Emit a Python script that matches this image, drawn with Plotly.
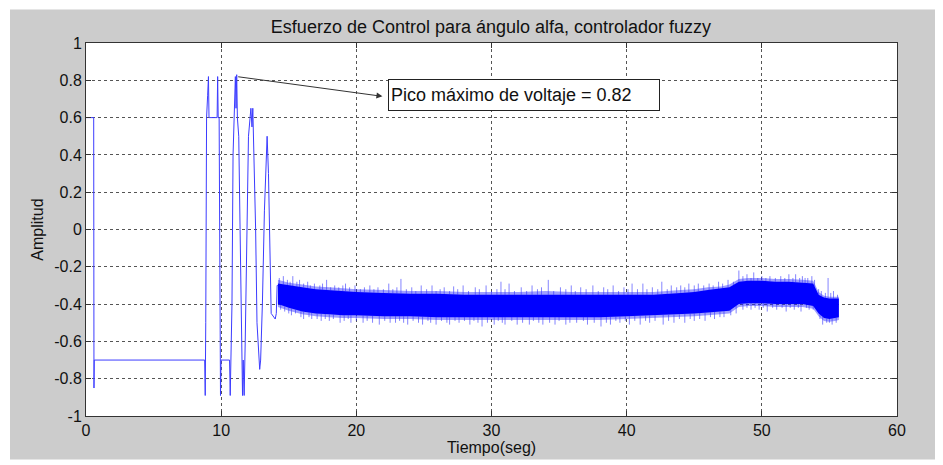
import plotly.graph_objects as go

# ---- data ----
# transient part of the control signal (time s, amplitude)
step_t = [0.0, 0.57, 0.59, 0.61, 8.78, 8.82, 8.86, 8.92, 9.0, 9.06, 9.1, 9.7, 9.74, 9.78, 9.85, 9.9,
          9.95, 9.99, 10.62, 10.67, 10.72, 10.8, 10.88, 10.98, 11.05, 11.1, 11.15, 11.2, 11.3, 11.4,
          11.5, 11.58, 11.63, 11.7, 11.78, 11.9, 12.02, 12.2, 12.28, 12.34, 12.42, 12.55, 12.65,
          12.78, 12.85, 12.92, 13.05, 13.2, 13.3, 13.4, 13.5, 13.6, 13.7, 14.0, 14.08, 14.14, 14.2]
step_y = [0.6, 0.6, -0.85, -0.7, -0.7, -0.89, -0.5, 0.6, 0.72, 0.82, 0.6, 0.6, 0.82, 0.6, 0.6, -0.3,
          -0.89, -0.7, -0.7, -0.89, -0.7, -0.4, 0.4, 0.6, 0.82, 0.65, 0.83, 0.6, 0.5, 0.0,
          -0.6, -0.89, -0.7, -0.89, -0.6, 0.0, 0.5, 0.65, 0.55, 0.65, 0.45, 0.0, -0.5,
          -0.65, -0.75, -0.7, -0.4, 0.1, 0.35, 0.5, 0.3, -0.1, -0.45, -0.48, -0.45, -0.3, -0.3]

# noisy steady part: dense core and lighter fringe of the band
band_t = [14.2, 15, 16, 17, 18, 19, 20, 22, 24, 26, 28, 30, 32, 34, 36, 38, 40, 42, 44, 45, 46,
          47, 47.6, 48.3, 49, 50, 51, 52, 53, 53.8, 54.2, 54.6, 55.0, 55.4, 55.7]
core_hi = [-0.29, -0.30, -0.31, -0.32, -0.325, -0.33, -0.335, -0.34, -0.345, -0.345, -0.35, -0.35,
           -0.35, -0.35, -0.35, -0.35, -0.35, -0.35, -0.34, -0.335, -0.325, -0.318, -0.31, -0.28,
           -0.275, -0.275, -0.28, -0.28, -0.285, -0.29, -0.35, -0.365, -0.37, -0.37, -0.37]
core_lo = [-0.40, -0.42, -0.44, -0.45, -0.455, -0.46, -0.46, -0.465, -0.465, -0.47, -0.47, -0.47,
           -0.47, -0.47, -0.47, -0.47, -0.465, -0.46, -0.455, -0.45, -0.445, -0.44, -0.435, -0.40,
           -0.395, -0.395, -0.40, -0.40, -0.40, -0.41, -0.45, -0.475, -0.48, -0.475, -0.47]
fringe_hi = [-0.27, -0.285, -0.295, -0.305, -0.31, -0.315, -0.32, -0.325, -0.33, -0.33, -0.335,
             -0.335, -0.335, -0.33, -0.335, -0.335, -0.335, -0.335, -0.325, -0.32, -0.31, -0.305,
             -0.295, -0.265, -0.26, -0.26, -0.265, -0.265, -0.27, -0.275, -0.335, -0.355, -0.36,
             -0.36, -0.36]
fringe_lo = [-0.415, -0.435, -0.455, -0.465, -0.47, -0.475, -0.475, -0.48, -0.48, -0.485, -0.485,
             -0.485, -0.485, -0.485, -0.485, -0.485, -0.48, -0.475, -0.47, -0.465, -0.46, -0.455,
             -0.45, -0.415, -0.41, -0.41, -0.415, -0.415, -0.415, -0.425, -0.465, -0.49, -0.495,
             -0.49, -0.485]

# noise spikes (time, tip amplitude)
spike_up_t = [14.3, 14.6, 14.9, 15.1, 15.3, 15.6, 15.8, 16.1, 16.4, 16.6, 16.9, 17.3, 17.5, 17.8,
              18.1, 18.4, 18.7, 19.0, 19.2, 19.5, 19.9, 20.3, 20.6, 21.0, 21.3, 21.6, 22.0, 22.4,
              22.7, 23.0, 23.3, 23.7, 24.1, 24.4, 24.8, 25.2, 25.6, 25.9, 26.2, 26.5, 26.9, 27.2,
              27.5, 27.9, 28.3, 28.8, 29.1, 29.6, 30.0, 30.4, 30.7, 31.0, 31.3, 31.7, 32.2, 32.6,
              33.0, 33.4, 33.7, 34.2, 34.6, 35.1, 35.5, 35.9, 36.2, 36.6, 37.0, 37.5, 37.9, 38.3,
              38.6, 39.0, 39.4, 39.8, 40.1, 40.4, 40.8, 41.2, 41.5, 41.9, 42.3, 42.6, 43.0, 43.3,
              43.7, 44.0, 44.3, 44.6, 45.0, 45.3, 45.7, 46.1, 46.4, 46.8, 47.1, 47.5, 47.9, 48.3,
              48.6, 48.9, 49.2, 49.4, 49.7, 50.0, 50.3, 50.6, 51.0, 51.4, 51.7, 52.0, 52.3, 52.5,
              52.8, 53.0, 53.2, 53.4, 53.7, 53.9, 54.2, 54.4, 54.7, 54.9, 55.1, 55.3, 55.6]
spike_up_y = [-0.26, -0.25, -0.27, -0.28, -0.25, -0.28, -0.27, -0.29, -0.28, -0.30, -0.29, -0.30,
              -0.29, -0.27, -0.31, -0.30, -0.31, -0.30, -0.29, -0.31, -0.30, -0.32, -0.31, -0.30,
              -0.32, -0.31, -0.32, -0.29, -0.32, -0.31, -0.265, -0.32, -0.31, -0.33, -0.30, -0.32,
              -0.30, -0.33, -0.32, -0.31, -0.33, -0.305, -0.32, -0.30, -0.33, -0.31, -0.32, -0.30,
              -0.33, -0.32, -0.28, -0.32, -0.29, -0.33, -0.31, -0.33, -0.30, -0.32, -0.31, -0.27,
              -0.33, -0.31, -0.32, -0.30, -0.33, -0.31, -0.32, -0.30, -0.33, -0.31, -0.32, -0.30,
              -0.33, -0.31, -0.32, -0.29, -0.32, -0.29, -0.32, -0.31, -0.32, -0.28, -0.32, -0.30,
              -0.31, -0.30, -0.31, -0.29, -0.30, -0.29, -0.30, -0.29, -0.30, -0.28, -0.29, -0.27,
              -0.28, -0.22, -0.25, -0.24, -0.26, -0.23, -0.26, -0.25, -0.26, -0.25, -0.26, -0.25,
              -0.26, -0.24, -0.26, -0.24, -0.26, -0.25, -0.26, -0.26, -0.25, -0.27, -0.32, -0.33,
              -0.34, -0.26, -0.34, -0.33, -0.35]
spike_dn_t = [14.4, 14.7, 15.0, 15.2, 15.5, 15.9, 16.1, 16.5, 16.7, 17.1, 17.4, 17.7, 18.0, 18.3,
              18.8, 19.1, 19.4, 19.6, 20.0, 20.5, 20.8, 21.2, 21.7, 22.1, 22.5, 22.9, 23.2, 23.5,
              23.8, 24.2, 24.6, 24.9, 25.3, 25.5, 25.9, 26.3, 26.7, 26.9, 27.3, 27.6, 28.0, 28.4,
              28.7, 29.0, 29.3, 29.7, 30.2, 30.5, 30.8, 31.0, 31.5, 31.9, 32.3, 32.8, 33.1, 33.5,
              33.8, 34.3, 34.7, 35.0, 35.5, 35.8, 36.3, 36.8, 37.1, 37.6, 38.1, 38.5, 38.8, 39.2,
              39.5, 39.9, 40.2, 40.6, 41.0, 41.4, 41.7, 42.1, 42.7, 43.1, 43.5, 43.9, 44.3, 44.7,
              45.0, 45.4, 45.8, 46.2, 46.5, 46.9, 47.2, 47.7, 48.1, 48.6, 48.9, 49.2, 49.5, 49.8,
              50.1, 50.4, 50.8, 51.1, 51.5, 51.8, 52.1, 52.4, 52.7, 52.9, 53.3, 53.5, 53.8, 54.3,
              54.5, 54.8, 55.0, 55.2, 55.5]
spike_dn_y = [-0.43, -0.44, -0.45, -0.46, -0.45, -0.47, -0.48, -0.47, -0.48, -0.48, -0.49, -0.48,
              -0.49, -0.48, -0.50, -0.49, -0.48, -0.50, -0.49, -0.50, -0.49, -0.50, -0.51, -0.49,
              -0.50, -0.50, -0.49, -0.50, -0.51, -0.49, -0.50, -0.51, -0.49, -0.50, -0.51, -0.49,
              -0.50, -0.51, -0.49, -0.50, -0.49, -0.51, -0.49, -0.50, -0.52, -0.50, -0.51, -0.49,
              -0.50, -0.51, -0.49, -0.51, -0.50, -0.51, -0.49, -0.50, -0.51, -0.50, -0.51, -0.49,
              -0.51, -0.50, -0.50, -0.49, -0.51, -0.50, -0.52, -0.50, -0.51, -0.49, -0.50, -0.49,
              -0.51, -0.49, -0.51, -0.49, -0.50, -0.49, -0.51, -0.49, -0.50, -0.48, -0.50, -0.48,
              -0.49, -0.48, -0.49, -0.47, -0.48, -0.47, -0.47, -0.46, -0.45, -0.43, -0.42, -0.43,
              -0.42, -0.43, -0.42, -0.44, -0.42, -0.43, -0.42, -0.44, -0.42, -0.43, -0.42, -0.44,
              -0.42, -0.43, -0.43, -0.48, -0.51, -0.50, -0.50, -0.51, -0.50]

peak_t, peak_y = 11.15, 0.82
note_text = "Pico máximo de voltaje = 0.82"
note_t, note_y = 32.44, 0.72       # box centre
arrow_head_t, arrow_head_y = 21.93, 0.714

x_ticks = [0, 10, 20, 30, 40, 50, 60]
y_ticks = [-1, -0.8, -0.6, -0.4, -0.2, 0, 0.2, 0.4, 0.6, 0.8, 1]
y_tick_text = ["-1", "-0.8", "-0.6", "-0.4", "-0.2", "0", "0.2", "0.4", "0.6", "0.8", "1"]

BLUE = "#0000ff"
FONT = "Liberation Sans, Arial, sans-serif"

fig = go.Figure()


def interp(t, ts, ys):
    for i in range(len(ts) - 1):
        if ts[i] <= t <= ts[i + 1]:
            f = (t - ts[i]) / (ts[i + 1] - ts[i])
            return ys[i] + f * (ys[i + 1] - ys[i])
    return ys[-1]


# fringe of the band (lighter)
fig.add_trace(go.Scatter(x=band_t, y=fringe_hi, mode="lines", line=dict(width=0),
                         hoverinfo="skip", showlegend=False))
fig.add_trace(go.Scatter(x=band_t, y=fringe_lo, mode="lines", line=dict(width=0),
                         fill="tonexty", fillcolor="rgba(40,40,255,0.45)",
                         hoverinfo="skip", showlegend=False))

# spikes
sx, sy = [], []
for t, yv in zip(spike_up_t, spike_up_y):
    sx += [t, t, None]
    sy += [interp(t, band_t, core_hi), yv, None]
for t, yv in zip(spike_dn_t, spike_dn_y):
    sx += [t, t, None]
    sy += [interp(t, band_t, core_lo), yv, None]
fig.add_trace(go.Scatter(x=sx, y=sy, mode="lines", line=dict(color="rgba(50,50,255,0.6)", width=1),
                         hoverinfo="skip", showlegend=False, connectgaps=False))

# dense core of the band
fig.add_trace(go.Scatter(x=band_t, y=core_hi, mode="lines", line=dict(width=0),
                         hoverinfo="skip", showlegend=False))
fig.add_trace(go.Scatter(x=band_t, y=core_lo, mode="lines", line=dict(width=0),
                         fill="tonexty", fillcolor=BLUE,
                         hoverinfo="skip", showlegend=False))

# transient
fig.add_trace(go.Scatter(x=step_t, y=step_y, mode="lines",
                         line=dict(color="rgb(60,60,255)", width=1), showlegend=False))

axis_common = dict(showline=True, linecolor="#333333", linewidth=1, mirror="ticks",
                   ticks="inside", ticklen=5, tickcolor="#333333",
                   showgrid=True, gridcolor="#555555", griddash="dot", gridwidth=1,
                   zeroline=False, tickfont=dict(family=FONT, size=16, color="#111111"))

fig.update_xaxes(range=[0, 60], tickvals=x_ticks, ticktext=[str(v) for v in x_ticks],
                 title=dict(text="Tiempo(seg)", font=dict(family=FONT, size=16, color="#111"),
                            standoff=3), **axis_common)
fig.update_yaxes(range=[-1, 1], tickvals=y_ticks, ticktext=y_tick_text,
                 title=dict(text="Amplitud", font=dict(family=FONT, size=16, color="#111"),
                            standoff=6), **axis_common)

fig.add_annotation(x=arrow_head_t, y=arrow_head_y, ax=peak_t, ay=peak_y, axref="x", ayref="y",
                   xref="x", yref="y", text="", showarrow=True, arrowhead=2, arrowsize=1.2,
                   arrowwidth=1, arrowcolor="#333333", standoff=0, startstandoff=0)
fig.add_annotation(x=note_t, y=note_y, xref="x", yref="y", text=note_text, showarrow=False,
                   font=dict(family=FONT, size=18, color="#111111"),
                   bgcolor="white", bordercolor="#222222", borderwidth=1, borderpad=2,
                   width=266, height=26, align="left", xanchor="center", yanchor="middle")

# the page has an 8 px body margin, so the figure is 8 px smaller on each side
fig.update_layout(
    width=935, height=457,
    margin=dict(l=78, r=46, t=35, b=44),
    paper_bgcolor="white", plot_bgcolor="white",
    title=dict(text="Esfuerzo de Control para ángulo alfa, controlador fuzzy",
               x=483 / 935, xanchor="center", y=1 - 19 / 457, yanchor="middle",
               font=dict(family=FONT, size=18, color="#111111")),
    shapes=[
        dict(type="rect", xref="paper", yref="paper", x0=-76 / 811, x1=851 / 811,
             y0=-44 / 378, y1=412 / 378, fillcolor="#cccccc", line=dict(width=0), layer="below"),
        dict(type="rect", xref="paper", yref="paper", x0=0, x1=1, y0=0, y1=1,
             fillcolor="white", line=dict(width=0), layer="below"),
    ],
)

fig.write_html("out.html")
